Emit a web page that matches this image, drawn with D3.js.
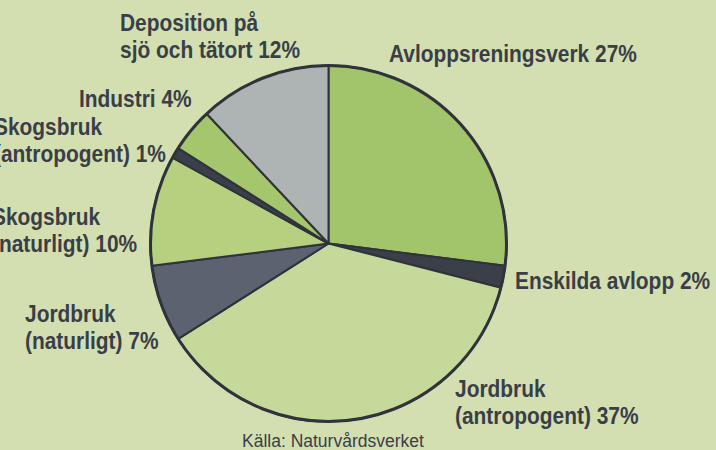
<!DOCTYPE html>
<html>
<head>
<meta charset="utf-8">
<script src="https://cdn.jsdelivr.net/npm/d3@7"></script>
<style>
  html, body { margin: 0; padding: 0; background: #d3dfb0; }
  svg { display: block; }
</style>
</head>
<body>
<svg id="chart" width="716" height="450"></svg>
<script>
// Källor till fosforutsläpp (andel i procent), medurs från klockan tolv
const sources = [
  "Avloppsreningsverk",
  "Enskilda avlopp",
  "Jordbruk (antropogent)",
  "Jordbruk (naturligt)",
  "Skogsbruk (naturligt)",
  "Skogsbruk (antropogent)",
  "Industri",
  "Deposition på sjö och tätort"
];
const shares = [27, 2, 37, 7, 10, 1, 4, 12];
const labelLines = [
  ["Avloppsreningsverk 27%"],
  ["Enskilda avlopp 2%"],
  ["Jordbruk", "(antropogent) 37%"],
  ["Jordbruk", "(naturligt) 7%"],
  ["Skogsbruk", "(naturligt) 10%"],
  ["Skogsbruk", "(antropogent) 1%"],
  ["Industri 4%"],
  ["Deposition på", "sjö och tätort 12%"]
];
const sourceNote = "Källa: Naturvårdsverket";

// Utseende
const fills = ["#a2c46b", "#3b3f4a", "#c5d99a", "#5c6270", "#b6d080", "#3b3f4a", "#a6c66e", "#aeb4b3"];
// Etikettplacering: vänsterkant och baslinje för första raden
const labelAnchors = [
  [389, 62], [515, 289], [455, 397], [25, 322],
  [-8, 225], [-6, 135], [79, 107], [120, 31]
];
const lineGap = 27;
const condense = 0.89;   // smal, fet grotesk

const svg = d3.select("#chart");
const cx = 328.5, cy = 243.5, r = 178;

const pie = d3.pie().sort(null).value(d => d)(shares);
const arc = d3.arc().innerRadius(0).outerRadius(r);

const g = svg.append("g").attr("transform", `translate(${cx},${cy})`);

g.selectAll("path.slice")
  .data(pie)
  .join("path")
  .attr("class", "slice")
  .attr("d", arc)
  .attr("fill", (d, i) => fills[i])
  .attr("stroke", "#2f333b")
  .attr("stroke-width", 2)
  .attr("stroke-linejoin", "round");

g.append("circle")
  .attr("r", r)
  .attr("fill", "none")
  .attr("stroke", "#2f333b")
  .attr("stroke-width", 3);

const labels = svg.append("g")
  .attr("font-family", "'Liberation Sans', Arial, sans-serif")
  .attr("font-weight", "bold")
  .attr("font-size", 23.5)
  .attr("fill", "#3a3e48");

labels.selectAll("text")
  .data(labelLines)
  .join("text")
  .attr("transform", (d, i) => `translate(${labelAnchors[i][0]},${labelAnchors[i][1]}) scale(${condense},1)`)
  .selectAll("tspan")
  .data(d => d)
  .join("tspan")
  .attr("x", 0)
  .attr("dy", (d, j) => j === 0 ? 0 : lineGap)
  .text(d => d);

svg.append("text")
  .attr("x", 242)
  .attr("y", 447)
  .attr("font-family", "'Liberation Sans', Arial, sans-serif")
  .attr("font-size", 17.5)
  .attr("fill", "#3a3e48")
  .text(sourceNote);
</script>
</body>
</html>
